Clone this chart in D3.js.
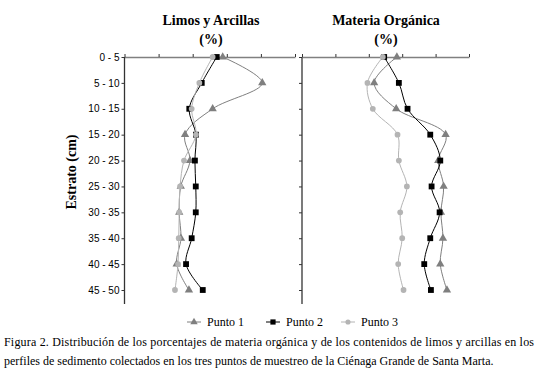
<!DOCTYPE html>
<html>
<head>
<meta charset="utf-8">
<script src="https://cdn.jsdelivr.net/npm/d3@7"></script>
<style>
  body { margin: 0; background: #fff; }
  svg { display: block; }
</style>
</head>
<body>
<svg id="chart"></svg>
<script>
// strata (depth categories)
const strata = ['0 - 5', '5 - 10', '10 - 15', '15 - 20', '20 - 25', '25 - 30', '30 - 35', '35 - 40', '40 - 45', '45 - 50'];

// Limos y Arcillas (%)
const limosP1 = [57.6, 80.8, 51.7, 35.5, 38.4, 33.0, 32.1, 33.1, 30.6, 37.8];
const limosP2 = [54.1, 45.3, 38.0, 41.9, 41.3, 41.8, 41.8, 39.4, 36.1, 45.9];
const limosP3 = [51.7, 43.9, 39.4, 41.9, 34.9, 32.6, 32.1, 31.8, 31.4, 29.6];

// Materia Organica (%)
const moP1 = [14.2, 10.8, 14.1, 21.5, 20.4, 21.2, 20.8, 21.1, 20.7, 21.7];
const moP2 = [12.3, 14.5, 15.8, 19.2, 20.7, 19.4, 20.6, 19.2, 18.3, 19.3];
const moP3 = [12.1, 9.8, 10.6, 14.3, 14.5, 15.7, 14.7, 15.0, 14.4, 15.2];

const seriesNames = ['Punto 1', 'Punto 2', 'Punto 3'];

const SERIF = "'Liberation Serif', 'Times New Roman', Times, serif";
const SANS = "'Liberation Sans', Arial, sans-serif";

const W = 537, H = 369;
const svg = d3.select('#chart').attr('width', W).attr('height', H);

const styles = [
  { color: '#7f7f7f', symbol: d3.symbolTriangle, size: 30 },
  { color: '#000000', symbol: d3.symbolSquare, size: 34 },
  { color: '#b4b4b4', symbol: d3.symbolCircle, size: 26 }
];

const y = d3.scalePoint().domain(strata).range([57, 290]);
const yBottom = 304;

function boldTitle(sel) {
  return sel.style('font-family', SERIF).style('font-weight', 'bold').style('font-size', '14px');
}

function drawPanel(cfg) {
  const x = d3.scaleLinear().domain(cfg.domain).range(cfg.range);
  const g = svg.append('g');

  // top axis (value axis)
  const xAxis = d3.axisTop(x).ticks(5).tickSize(3).tickSizeOuter(0).tickFormat('');
  const xg = g.append('g')
      .attr('transform', `translate(0,${y(strata[0])})`)
      .call(xAxis);
  xg.select('.domain').attr('stroke', '#808080').attr('stroke-width', 1.3);
  xg.selectAll('.tick line').attr('stroke', '#333');

  // left axis (category axis)
  const yAxis = d3.axisLeft(y).tickSize(3).tickSizeOuter(0);
  if (!cfg.labels) yAxis.tickFormat('');
  const yg = g.append('g')
      .attr('transform', `translate(${cfg.range[0]},0)`)
      .call(yAxis);
  yg.select('.domain').remove();
  yg.selectAll('.tick line').attr('stroke', '#333');
  yg.selectAll('.tick text').attr('x', -5)
      .style('font-family', SANS).style('font-size', '10px').attr('fill', '#000');
  g.append('line')
      .attr('x1', cfg.range[0]).attr('x2', cfg.range[0])
      .attr('y1', y(strata[0])).attr('y2', yBottom)
      .attr('stroke', '#333').attr('stroke-width', 1.3);

  const line = d3.line()
      .x(d => x(d.v))
      .y(d => y(d.s))
      .curve(d3.curveCatmullRom);

  cfg.series.forEach((vals, i) => {
    const data = vals.map((v, k) => ({ v: v, s: strata[k] }));
    const st = styles[i];
    g.append('path')
        .datum(data)
        .attr('d', line)
        .attr('fill', 'none')
        .attr('stroke', st.color)
        .attr('stroke-width', 1);
    g.selectAll('.m' + i)
        .data(data)
        .join('path')
        .attr('class', 'm' + i)
        .attr('transform', d => `translate(${x(d.v)},${y(d.s)})`)
        .attr('d', d3.symbol().type(st.symbol).size(st.size))
        .attr('fill', st.color);
  });

  // panel title
  const cx = cfg.titleX;
  g.append('text').call(boldTitle)
      .attr('x', cx).attr('y', 25).attr('text-anchor', 'middle')
      .text(cfg.title);
  g.append('text').call(boldTitle)
      .attr('x', cx).attr('y', 44).attr('text-anchor', 'middle')
      .text('(%)');
}

drawPanel({
  domain: [0, 100], range: [124.5, 295],
  series: [limosP1, limosP2, limosP3],
  labels: true, title: 'Limos y Arcillas', titleX: 211
});

drawPanel({
  domain: [0, 25], range: [302, 469],
  series: [moP1, moP2, moP3],
  labels: false, title: 'Materia Orgánica', titleX: 386
});

// y axis title
svg.append('text')
    .call(boldTitle)
    .attr('transform', 'translate(76,172) rotate(-90)')
    .attr('text-anchor', 'middle')
    .text('Estrato  (cm)');

// legend
const legendX = [187, 266, 341];
const legend = svg.append('g');
seriesNames.forEach((name, i) => {
  const st = styles[i];
  const lg = legend.append('g').attr('transform', `translate(${legendX[i]},322)`);
  lg.append('line').attr('x1', 0).attr('x2', 14).attr('y1', 0).attr('y2', 0)
      .attr('stroke', st.color).attr('stroke-width', 1);
  lg.append('path').attr('transform', 'translate(7,0)')
      .attr('d', d3.symbol().type(st.symbol).size(st.size * 0.8))
      .attr('fill', st.color);
  lg.append('text').attr('x', 20).attr('y', 4)
      .style('font-family', SERIF).style('font-size', '12px')
      .text(name);
});

// caption
svg.append('text')
    .style('font-family', SERIF).style('font-size', '12px')
    .attr('x', 4).attr('y', 346)
    .attr('textLength', 530).attr('lengthAdjust', 'spacing')
    .text('Figura 2. Distribución de los porcentajes de materia orgánica y de los contenidos de limos y arcillas en los');
svg.append('text')
    .style('font-family', SERIF).style('font-size', '12px')
    .attr('x', 4).attr('y', 365)
    .text('perfiles de sedimento colectados en los tres puntos de muestreo de la Ciénaga Grande de Santa Marta.');
</script>
</body>
</html>
